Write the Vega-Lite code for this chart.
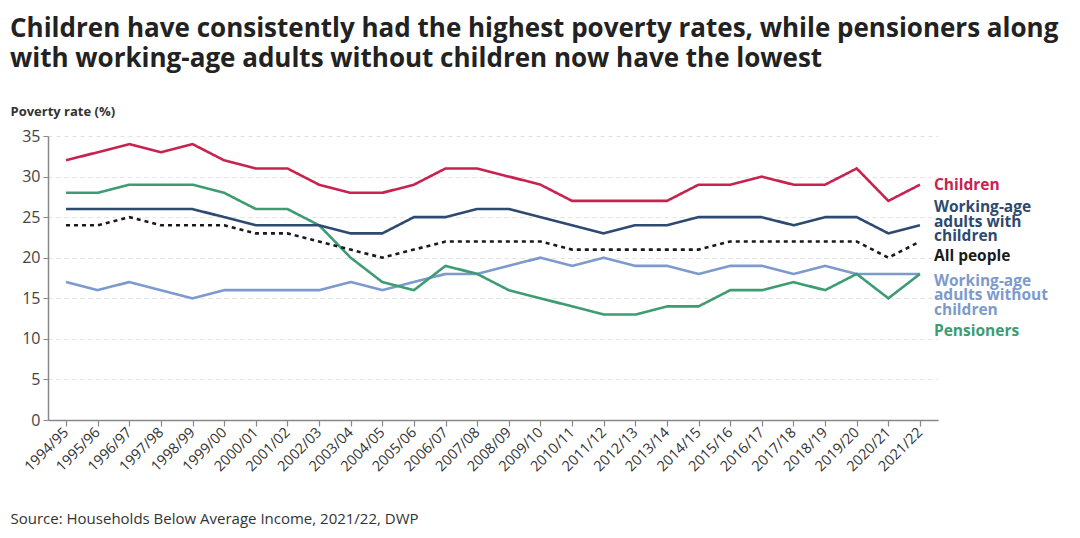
{
  "$schema": "https://vega.github.io/schema/vega-lite/v6.json",
  "width": 890,
  "height": 284,
  "autosize": {"type": "none"},
  "padding": {"left": 48, "top": 136, "right": 142, "bottom": 118},
  "background": "white",
  "config": {
    "font": "Open Sans",
    "view": {"stroke": null}
  },
  "title": {
    "text": ["Children have consistently had the highest poverty rates, while pensioners along", "with working-age adults without children now have the lowest"],
    "anchor": "start",
    "frame": "group",
    "dx": -38,
    "fontSize": 26,
    "fontWeight": "bold",
    "color": "#222222",
    "lineHeight": 30,
    "offset": 33,
    "font": "Open Sans"
  },
  "data": {
    "values": [
      {"year": "1994/95", "Children": 32, "WAwC": 26, "All": 24, "Pens": 28, "WAwoC": 17},
      {"year": "1995/96", "Children": 33, "WAwC": 26, "All": 24, "Pens": 28, "WAwoC": 16},
      {"year": "1996/97", "Children": 34, "WAwC": 26, "All": 25, "Pens": 29, "WAwoC": 17},
      {"year": "1997/98", "Children": 33, "WAwC": 26, "All": 24, "Pens": 29, "WAwoC": 16},
      {"year": "1998/99", "Children": 34, "WAwC": 26, "All": 24, "Pens": 29, "WAwoC": 15},
      {"year": "1999/00", "Children": 32, "WAwC": 25, "All": 24, "Pens": 28, "WAwoC": 16},
      {"year": "2000/01", "Children": 31, "WAwC": 24, "All": 23, "Pens": 26, "WAwoC": 16},
      {"year": "2001/02", "Children": 31, "WAwC": 24, "All": 23, "Pens": 26, "WAwoC": 16},
      {"year": "2002/03", "Children": 29, "WAwC": 24, "All": 22, "Pens": 24, "WAwoC": 16},
      {"year": "2003/04", "Children": 28, "WAwC": 23, "All": 21, "Pens": 20, "WAwoC": 17},
      {"year": "2004/05", "Children": 28, "WAwC": 23, "All": 20, "Pens": 17, "WAwoC": 16},
      {"year": "2005/06", "Children": 29, "WAwC": 25, "All": 21, "Pens": 16, "WAwoC": 17},
      {"year": "2006/07", "Children": 31, "WAwC": 25, "All": 22, "Pens": 19, "WAwoC": 18},
      {"year": "2007/08", "Children": 31, "WAwC": 26, "All": 22, "Pens": 18, "WAwoC": 18},
      {"year": "2008/09", "Children": 30, "WAwC": 26, "All": 22, "Pens": 16, "WAwoC": 19},
      {"year": "2009/10", "Children": 29, "WAwC": 25, "All": 22, "Pens": 15, "WAwoC": 20},
      {"year": "2010/11", "Children": 27, "WAwC": 24, "All": 21, "Pens": 14, "WAwoC": 19},
      {"year": "2011/12", "Children": 27, "WAwC": 23, "All": 21, "Pens": 13, "WAwoC": 20},
      {"year": "2012/13", "Children": 27, "WAwC": 24, "All": 21, "Pens": 13, "WAwoC": 19},
      {"year": "2013/14", "Children": 27, "WAwC": 24, "All": 21, "Pens": 14, "WAwoC": 19},
      {"year": "2014/15", "Children": 29, "WAwC": 25, "All": 21, "Pens": 14, "WAwoC": 18},
      {"year": "2015/16", "Children": 29, "WAwC": 25, "All": 22, "Pens": 16, "WAwoC": 19},
      {"year": "2016/17", "Children": 30, "WAwC": 25, "All": 22, "Pens": 16, "WAwoC": 19},
      {"year": "2017/18", "Children": 29, "WAwC": 24, "All": 22, "Pens": 17, "WAwoC": 18},
      {"year": "2018/19", "Children": 29, "WAwC": 25, "All": 22, "Pens": 16, "WAwoC": 19},
      {"year": "2019/20", "Children": 31, "WAwC": 25, "All": 22, "Pens": 18, "WAwoC": 18},
      {"year": "2020/21", "Children": 27, "WAwC": 23, "All": 20, "Pens": 15, "WAwoC": 18},
      {"year": "2021/22", "Children": 29, "WAwC": 24, "All": 22, "Pens": 18, "WAwoC": 18}
    ]
  },
  "transform": [
    {"fold": ["WAwoC", "Pens", "All", "WAwC", "Children"], "as": ["series", "value"]}
  ],
  "encoding": {
    "x": {
      "field": "year",
      "type": "ordinal",
      "sort": null,
      "scale": {"type": "point", "padding": 0.57},
      "axis": {
        "title": "Source: Households Below Average Income, 2021/22, DWP",
        "titleX": -38,
        "titleY": 98,
        "titleAlign": "left",
        "titleAnchor": null,
        "titleBaseline": "middle",
        "titleFontSize": 15,
        "titleFontWeight": "normal",
        "titleColor": "#333333",
        "labelAngle": -45,
        "labelAlign": "right",
        "labelBaseline": "middle",
        "labelFontSize": 14.5,
        "labelColor": "#333333",
        "labelPadding": 4,
        "domainColor": "#888888",
        "domainWidth": 1.5,
        "tickColor": "#888888",
        "tickSize": 6,
        "tickWidth": 1.2,
        "grid": false
      }
    },
    "y": {
      "field": "value",
      "type": "quantitative",
      "scale": {"domain": [0, 35], "nice": false},
      "axis": {
        "values": [0, 5, 10, 15, 20, 25, 30, 35],
        "title": "Poverty rate (%)",
        "titleAngle": 0,
        "titleX": -38,
        "titleY": -25,
        "titleAlign": "left",
        "titleBaseline": "middle",
        "titleFontSize": 13,
        "titleFontWeight": "bold",
        "titleColor": "#333333",
        "labelFontSize": 16,
        "labelColor": "#444444",
        "labelPadding": 3,
        "domainColor": "#888888",
        "domainWidth": 1.5,
        "tickColor": "#888888",
        "tickSize": 5,
        "grid": true,
        "gridColor": "#e2e2e2",
        "gridDash": [4, 4]
      }
    }
  },
  "layer": [
    {
      "mark": {"type": "line", "strokeWidth": 2.6},
      "encoding": {
        "color": {
          "field": "series",
          "type": "nominal",
          "scale": {
            "domain": ["Children", "WAwC", "All", "WAwoC", "Pens"],
            "range": ["#C8234F", "#2E4A70", "#1a1a1a", "#7C9ACC", "#3D9C72"]
          },
          "legend": null
        },
        "strokeDash": {
          "field": "series",
          "type": "nominal",
          "scale": {
            "domain": ["Children", "WAwC", "All", "WAwoC", "Pens"],
            "range": [[1, 0], [1, 0], [4, 4], [1, 0], [1, 0]]
          },
          "legend": null
        },
        "strokeWidth": {
          "field": "series",
          "type": "nominal",
          "scale": {
            "domain": ["Children", "WAwC", "All", "WAwoC", "Pens"],
            "range": [2.6, 2.6, 3.2, 2.6, 2.6]
          },
          "legend": null
        }
      }
    },
    {
      "transform": [{"filter": "datum.year == '2021/22' && datum.series == 'Children'"}],
      "mark": {"type": "text", "text": "Children", "align": "left", "baseline": "middle", "dx": 14, "dy": 0, "fontSize": 15.5, "fontWeight": "bold", "color": "#C8234F"}
    },
    {
      "transform": [{"filter": "datum.year == '2021/22' && datum.series == 'WAwC'"}],
      "mark": {"type": "text", "text": ["Working-age", "adults with", "children"], "align": "left", "baseline": "middle", "lineHeight": 14.5, "dx": 14, "dy": -18, "fontSize": 15.5, "fontWeight": "bold", "color": "#2E4A70"}
    },
    {
      "transform": [{"filter": "datum.year == '2021/22' && datum.series == 'All'"}],
      "mark": {"type": "text", "text": "All people", "align": "left", "baseline": "middle", "dx": 14, "dy": 15, "fontSize": 15.5, "fontWeight": "bold", "color": "#1a1a1a"}
    },
    {
      "transform": [{"filter": "datum.year == '2021/22' && datum.series == 'WAwoC'"}],
      "mark": {"type": "text", "text": ["Working-age", "adults without", "children"], "align": "left", "baseline": "middle", "lineHeight": 14.5, "dx": 14, "dy": 7, "fontSize": 15.5, "fontWeight": "bold", "color": "#7C9ACC"}
    },
    {
      "transform": [{"filter": "datum.year == '2021/22' && datum.series == 'Pens'"}],
      "mark": {"type": "text", "text": "Pensioners", "align": "left", "baseline": "middle", "dx": 14, "dy": 57, "fontSize": 15.5, "fontWeight": "bold", "color": "#3D9C72"}
    }
  ]
}
